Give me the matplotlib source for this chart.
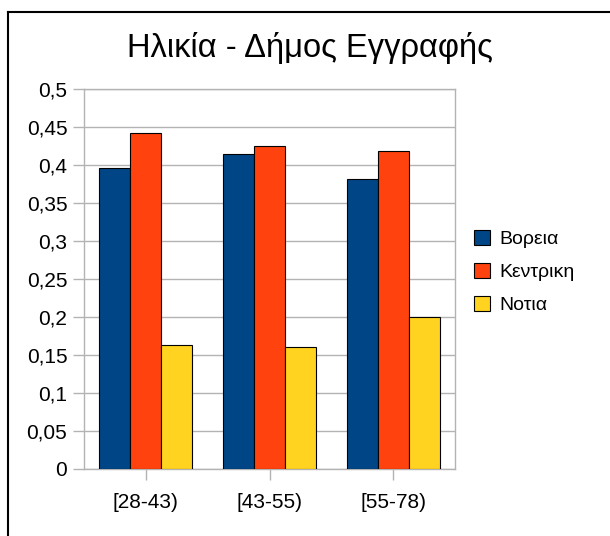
import numpy as np
import matplotlib
matplotlib.use("Agg")
import matplotlib.pyplot as plt
from matplotlib.lines import Line2D
from matplotlib.ticker import FuncFormatter

plt.rcParams['font.family'] = ['Liberation Sans', 'DejaVu Sans']

# Δεδομένα
categories = ["[28-43)", "[43-55)", "[55-78)"]
series = ["Βορεια", "Κεντρικη", "Νοτια"]
vorea = [0.396, 0.414, 0.382]
kentriki = [0.442, 0.425, 0.418]
notia = [0.163, 0.160, 0.200]
colors = ["#004586", "#ff420e", "#ffd320"]

fig = plt.figure(figsize=(6.1, 5.36), dpi=100)
ax = fig.add_axes([84 / 610, 1 - 469 / 536, 371 / 610, 380 / 536])

x = np.arange(len(categories))
width = 0.25
for i, (name, vals) in enumerate(zip(series, [vorea, kentriki, notia])):
    ax.bar(x + (i - 1) * width, vals, width, color=colors[i], edgecolor="black",
           linewidth=0.8, label=name, zorder=3)

ax.set_xlim(-0.5, 2.5)
ax.set_ylim(0, 0.5)
ax.set_yticks(np.arange(0, 0.501, 0.05))
ax.yaxis.set_major_formatter(FuncFormatter(lambda v, p: f"{v:.2f}".rstrip("0").rstrip(".").replace(".", ",") if v != 0 else "0"))
ax.set_xticks(x)
ax.set_xticklabels(categories)

grey = "#b3b3b3"
ax.grid(axis="y", color=grey, linewidth=1, zorder=0)
for s in ax.spines.values():
    s.set_color(grey)
    s.set_linewidth(1)
ax.tick_params(axis="both", colors=grey, labelcolor="black", labelsize=15,
               length=8, width=1)
ax.tick_params(axis="y", pad=4)
ax.tick_params(axis="x", pad=9)

fig.text(310 / 610, 1 - 57 / 536, "Ηλικία - Δήμος Εγγραφής", ha="center", va="baseline", fontsize=23.5)

leg = ax.legend(loc="center left", bbox_to_anchor=(474 / 610, 1 - 272 / 536),
                bbox_transform=fig.transFigure, frameon=False, fontsize=14,
                handlelength=0.8, handleheight=0.8, handletextpad=0.5,
                labelspacing=0.75, borderaxespad=0, borderpad=0)

# περίγραμμα (πάνω και αριστερά)
fig.add_artist(Line2D([8 / 610, 1], [1 - 12 / 536, 1 - 12 / 536], color="black", linewidth=1.5))
fig.add_artist(Line2D([8 / 610, 8 / 610], [0, 1 - 12 / 536], color="black", linewidth=1.5))

fig.savefig("out.png", dpi=100)
